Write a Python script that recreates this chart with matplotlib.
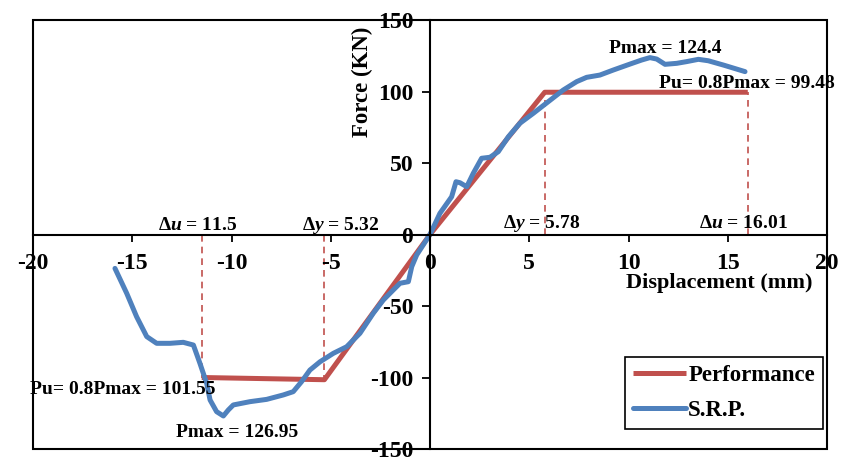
import numpy as np
import matplotlib
matplotlib.use('Agg')
import matplotlib.pyplot as plt
import matplotlib.patches as patches

plt.rcParams['font.family'] = ['Liberation Serif', 'DejaVu Serif']
plt.rcParams['font.weight'] = 'bold'
plt.rcParams['axes.unicode_minus'] = False
plt.rcParams['mathtext.fontset'] = 'custom'
plt.rcParams['mathtext.rm'] = 'Liberation Serif:bold'
plt.rcParams['mathtext.it'] = 'Liberation Serif:italic:bold'
plt.rcParams['mathtext.bf'] = 'Liberation Serif:bold'

# bilinear idealisation (Performance)
perf_x = [-11.5, -5.32, 0, 5.78, 16.01]
perf_y = [-100.0, -101.55, 0, 99.48, 99.48]

srp_x = [-15.87, -15.28, -14.78, -14.27, -13.77, -13.10, -12.43, -11.92, -11.59,
         -11.25, -11.08, -10.75, -10.41, -10.16, -9.91, -9.07, -8.23, -7.39,
         -6.89, -6.47, -6.05, -5.54, -4.87, -4.20, -3.53, -2.86, -2.35, -1.85,
         -1.51, -1.09, -0.92, -0.67, 0.0,
         0.50, 1.09, 1.31, 1.51, 1.85, 2.18, 2.60, 3.02, 3.44, 3.95, 4.53, 5.20,
         5.96, 6.71, 7.39, 7.89, 8.56, 9.23, 10.08, 10.66, 11.08, 11.42, 11.84,
         12.43, 12.93, 13.52, 14.02, 14.78, 15.87]
srp_y = [-23.7, -41.1, -57.5, -71.4, -76.1, -76.1, -75.4, -77.3, -90.1,
         -104.1, -115.7, -123.9, -126.9, -122.7, -119.2, -116.9, -115.3, -112.2,
         -109.9, -102.9, -94.8, -89.0, -83.1, -78.5, -69.1, -55.1, -45.8, -38.8,
         -34.1, -33.0, -22.5, -14.3, 0.0,
         14.8, 26.4, 36.9, 36.2, 33.4, 42.8, 53.3, 54.0, 57.9, 68.4, 77.8, 84.7,
         92.9, 101.0, 106.9, 109.9, 111.5, 115.0, 119.2, 122.0, 123.7, 122.7, 119.0,
         119.7, 120.9, 122.5, 121.5, 118.5, 113.9]

# dashed markers for yield / ultimate displacement
mark_x = [-11.5, -5.32, 5.78, 16.01]
mark_y = [-100.0, -101.55, 99.48, 99.48]

x_ticks = [-20, -15, -10, -5, 0, 5, 10, 15, 20]
y_ticks = [-150, -100, -50, 0, 50, 100, 150]

red = '#C0504D'
blue = '#4F81BD'

fig = plt.figure(figsize=(8.43, 4.66), dpi=100)
ax = fig.add_axes([33/843, 1-449/466, 794/843, 429/466])

for mx, my in zip(mark_x, mark_y):
    ax.plot([mx, mx], [0, my], color=red, lw=1.2, dashes=(4, 3), zorder=1)

ax.plot(perf_x, perf_y, color=red, lw=3.6, label='Performance', solid_capstyle='butt')
ax.plot(srp_x, srp_y, color=blue, lw=3.6, label='S.R.P.', solid_capstyle='round',
        solid_joinstyle='round')

ax.set_xlim(-20, 20)
ax.set_ylim(-150, 150)
ax.set_xticks(x_ticks)
ax.set_yticks(y_ticks)

ax.spines['left'].set_position(('data', 0))
ax.spines['bottom'].set_position(('data', 0))
ax.spines['top'].set_visible(False)
ax.spines['right'].set_visible(False)
for s in ('left', 'bottom'):
    ax.spines[s].set_linewidth(1.5)
ax.add_patch(patches.Rectangle((0, 0), 1, 1, transform=ax.transAxes, fill=False,
                               lw=1.5, ec='black', clip_on=False, zorder=3))

ax.tick_params(axis='x', direction='out', length=5, width=1.3, pad=8, labelsize=17)
ax.tick_params(axis='y', direction='out', length=6, width=1.3, pad=6, labelsize=17)
for lab in ax.get_yticklabels():
    lab.set_bbox(dict(facecolor='white', edgecolor='none', pad=0.5))

ax.set_xlabel('Displacement (mm)', fontsize=16, fontweight='bold')
ax.xaxis.set_label_coords(0.864, 0.41)
ax.set_ylabel('Force (KN)', fontsize=16.5, fontweight='bold')
ax.yaxis.set_label_coords(0.428, 0.855)

fs = 14
ax.text(11.84, 130.4, 'Pmax = 124.4', ha='center', va='center', fontsize=fs)
ax.text(15.97, 105.9, 'Pu= 0.8Pmax = 99.48', ha='center', va='center', fontsize=fs)
ax.text(5.64, 8.0, r'$\Delta y$ = 5.78', ha='center', va='center', fontsize=fs)
ax.text(15.77, 8.0, r'$\Delta u$ = 16.01', ha='center', va='center', fontsize=fs)
ax.text(-11.69, 6.6, r'$\Delta u$ = 11.5', ha='center', va='center', fontsize=fs)
ax.text(-4.53, 6.6, r'$\Delta y$ = 5.32', ha='center', va='center', fontsize=fs)
ax.text(-15.47, -108.7, 'Pu= 0.8Pmax = 101.55', ha='center', va='center', fontsize=fs)
ax.text(-9.72, -138.8, 'Pmax = 126.95', ha='center', va='center', fontsize=fs)

leg = ax.legend(loc='lower right', bbox_to_anchor=(0.995, 0.047), fontsize=16.5,
                frameon=True, fancybox=False, framealpha=1, edgecolor='black',
                handlelength=2.3, handletextpad=0.1, borderpad=0.35,
                labelspacing=0.6, borderaxespad=0)
leg.get_frame().set_linewidth(1.2)

plt.savefig('out.png', dpi=100)
